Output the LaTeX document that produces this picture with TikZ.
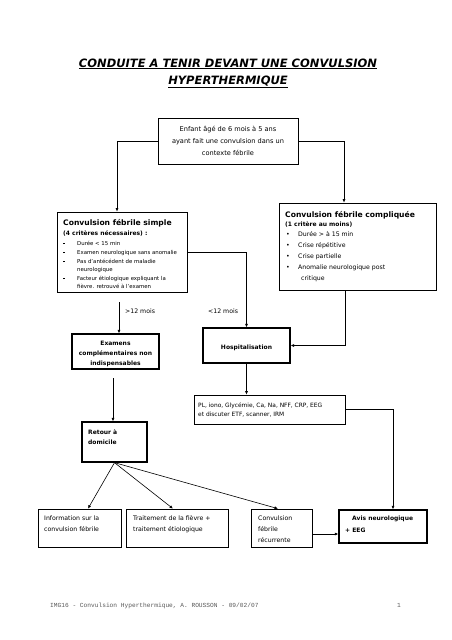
\documentclass[tikz,border=0pt]{standalone}
\usepackage{fontspec}
\setmainfont{DejaVu Sans}
\setmonofont{Liberation Mono}
\usetikzlibrary{arrows.meta}
\newcommand{\sqb}{\rule[0.3ex]{1.3pt}{1.3pt}}
\begin{document}
\begin{tikzpicture}[x=1pt,y=-1pt,
  box/.style={draw, line width=0.7pt, inner sep=0pt},
  tbox/.style={box, line width=1.3pt},
  arr/.style={-{Latex[length=3.5pt,width=3pt]}, line width=0.6pt},
  tl/.style={inner sep=0pt, anchor=base west},
  tc/.style={inner sep=0pt, anchor=base},
  fA/.style={font=\fontsize{6.6}{8}\selectfont},
  fB/.style={font=\fontsize{5.4}{7}\selectfont},
  fC/.style={font=\fontsize{6.2}{8}\selectfont},
  fP/.style={font=\fontsize{5.9}{8}\selectfont},
  fH/.style={font=\bfseries\fontsize{7.6}{9}\selectfont},
  fS/.style={font=\bfseries\fontsize{6}{8}\selectfont}
]
\useasboundingbox[fill=white] (0,0) rectangle (452,640);

% title
\node[tc, font=\bfseries\itshape\fontsize{11.5}{14}\selectfont] (t1) at (228,67) {\underline{CONDUITE A TENIR DEVANT UNE CONVULSION}};
\node[tc, font=\bfseries\itshape\fontsize{11.5}{14}\selectfont] (t2) at (228,84) {\underline{HYPERTHERMIQUE}};

% boxes
\node[box, minimum width=140, minimum height=46] (top) at (228,141) {};
\node[box, minimum width=130, minimum height=80] (simple) at (122,252) {};
\node[box, minimum width=157, minimum height=87] (compl) at (357.5,246.5) {};
\node[tbox, minimum width=87, minimum height=35] (exam) at (115.5,351.5) {};
\node[tbox, minimum width=87, minimum height=35] (hosp) at (246.5,345.5) {};
\node[box, minimum width=151, minimum height=29] (pl) at (269.5,409.5) {};
\node[tbox, minimum width=65, minimum height=40] (retour) at (114.5,442) {};
\node[box, minimum width=83, minimum height=38] (info) at (79.5,528) {};
\node[box, minimum width=102, minimum height=38] (trait) at (177,528) {};
\node[box, minimum width=61, minimum height=38] (conv) at (281.5,528) {};
\node[tbox, minimum width=88, minimum height=33] (avis) at (383,526.5) {};

% top box text
\node[tc, fA] (a1) at (228,131.5) {Enfant âgé de 6 mois à 5 ans};
\node[tc, fA] (a2) at (228,143.5) {ayant fait une convulsion dans un};
\node[tc, fA] (a3) at (228,155) {contexte fébrile};

% simple box text
\node[tl, fH] (s1) at (63,225) {Convulsion fébrile simple};
\node[tl, fS] (s2) at (63,235.5) {(4 critères nécessaires) :};
\node[tl, fB] (s3b) at (63,245) {\sqb};
\node[tl, fB] (s3) at (77,245) {Durée < 15 min};
\node[tl, fB] (s4b) at (63,254) {\sqb};
\node[tl, fB] (s4) at (77,254) {Examen neurologique sans anomalie};
\node[tl, fB] (s5b) at (63,263) {\sqb};
\node[tl, fB] (s5) at (77,263) {Pas d'antécédent de maladie};
\node[tl, fB] (s6) at (77,271) {neurologique};
\node[tl, fB] (s7b) at (63,280) {\sqb};
\node[tl, fB] (s7) at (77,280) {Facteur étiologique expliquant la};
\node[tl, fB] (s8) at (77,288.5) {fièvre. retrouvé à l'examen};

% complicated box text
\node[tl, fH] (c1) at (285,217) {Convulsion fébrile compliquée};
\node[tl, fS] (c2) at (285,226.5) {(1 critère au moins)};
\node[tl, fC] (c3b) at (286,236.5) {•};
\node[tl, fC] (c3) at (298,236.5) {Durée > à 15 min};
\node[tl, fC] (c4b) at (286,247) {•};
\node[tl, fC] (c4) at (298,247) {Crise répétitive};
\node[tl, fC] (c5b) at (286,258) {•};
\node[tl, fC] (c5) at (298,258) {Crise partielle};
\node[tl, fC] (c6b) at (286,269.5) {•};
\node[tl, fC] (c6) at (298,269.5) {Anomalie neurologique post};
\node[tl, fC] (c7) at (301,280) {critique};

% examens / hospitalisation
\node[tc, fS] (e1) at (115.5,345) {Examens};
\node[tc, fS] (e2) at (115.5,355) {complémentaires non};
\node[tc, fS] (e3) at (115.5,365) {indispensables};
\node[tc, fS] (h1) at (246.5,349) {Hospitalisation};

% labels
\node[tl, fC] (l1) at (125,313) {>12 mois};
\node[tl, fC] (l2) at (208,313) {<12 mois};

% PL
\node[tl, fP] (p1) at (198,407) {PL, iono, Glycémie, Ca, Na, NFF, CRP, EEG};
\node[tl, fP] (p2) at (198,416.5) {et discuter ETF, scanner, IRM};

% retour
\node[tl, fS] (r1) at (88,434) {Retour à};
\node[tl, fS] (r2) at (88,444) {domicile};

% bottom boxes
\node[tl, fC] (i1) at (44,520.5) {Information sur la};
\node[tl, fC] (i2) at (44,531.5) {convulsion fébrile};
\node[tl, fC] (tr1) at (133,520.5) {Traitement de la fièvre +};
\node[tl, fC] (tr2) at (133,531.5) {traitement étiologique};
\node[tl, fC] (v1) at (258,520.5) {Convulsion};
\node[tl, fC] (v2) at (258,531.5) {fébrile};
\node[tl, fC] (v3) at (258,542.5) {récurrente};
\node[tl, fS] (av1) at (352,520.5) {Avis neurologique};
\node[tl, fS] (av2) at (345,532.5) {+ EEG};

% footer
\node[tl, font=\ttfamily\fontsize{6.2}{7}\selectfont, text=black!65] (f1) at (50,607) {IMG16 - Convulsion Hyperthermique, A. ROUSSON - 09/02/07};
\node[tl, font=\ttfamily\fontsize{6.2}{7}\selectfont, text=black!65] (f2) at (397,607) {1};

% connectors
\coordinate (sx) at (119,302);
\coordinate (ex) at (113,378);
\draw[arr] (top.west) -| ([xshift=-5pt]simple.north);
\draw[arr] (top.east) -| ([xshift=-13.5pt]compl.north);
\draw[arr] (simple.east) -| (hosp.north);
\draw[arr] ([xshift=-12.5pt]compl.south) |- (hosp.east);
\draw[arr] (sx) -- (sx |- exam.north);
\draw[arr] (hosp.south) -- (hosp.south |- pl.north);
\draw[arr] (pl.east) -| ([xshift=10pt]avis.north);
\draw[arr] (ex) -- (ex |- retour.north);
\draw[arr] (retour.south) -- ([xshift=8.5pt]info.north);
\draw[arr] (retour.south) -- ([xshift=-4pt]trait.north);
\draw[arr] (retour.south) -- ([xshift=-3.5pt]conv.north);
\draw[arr] ([yshift=-6pt]conv.east) -- ([yshift=-6pt]conv.east -| avis.west);
\end{tikzpicture}
\end{document}
